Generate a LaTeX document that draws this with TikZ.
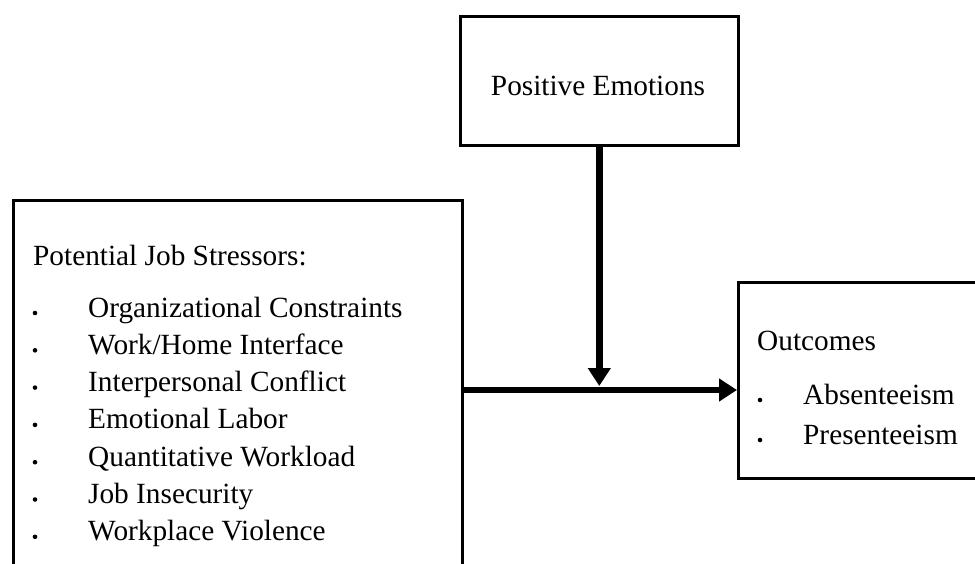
\documentclass[tikz,border=0pt]{standalone}
\usepackage{fontspec}
\setmainfont{Liberation Serif}
\usetikzlibrary{arrows.meta}
\begin{document}
\begin{tikzpicture}[x=1pt,y=-1pt,
  box/.style={draw=black,line width=2.6pt,fill=white,inner sep=0pt},
  txt/.style={anchor=base west,inner sep=0pt,font=\fontsize{29.3}{37.3}\selectfont},
  bul/.style={circle,fill=black,inner sep=0pt,minimum size=4.6pt},
  conn/.style={line width=6.5pt,-{Triangle[width=22pt,length=18pt]}}]
\clip (0,0) rectangle (975,563);
\fill[white] (0,0) rectangle (975,563);
% boxes
\node[box,anchor=north west,minimum width=278pt,minimum height=129pt] (pos) at (459,15) {};
\node[box,anchor=north west,minimum width=449pt,minimum height=430pt] (stress) at (12,199) {};
\node[box,anchor=north west,minimum width=280pt,minimum height=196pt] (outc) at (737,281) {};
% texts
\node[txt,anchor=base] (postxt) at (598,95) {Positive Emotions};
\node[txt] (sttitle) at (33,265) {Potential Job Stressors:};
\node[txt] (s1) at (88,317) {Organizational Constraints};
\node[txt] (s2) at (88,354.3) {Work/Home Interface};
\node[txt] (s3) at (88,391.6) {Interpersonal Conflict};
\node[txt] (s4) at (88,428.9) {Emotional Labor};
\node[txt] (s5) at (88,466.2) {Quantitative Workload};
\node[txt] (s6) at (88,503.5) {Job Insecurity};
\node[txt] (s7) at (88,540.8) {Workplace Violence};
\node[bul] (b1) at (35,313) {};
\node[bul] (b2) at (35,350.3) {};
\node[bul] (b3) at (35,387.6) {};
\node[bul] (b4) at (35,424.9) {};
\node[bul] (b5) at (35,462.2) {};
\node[bul] (b6) at (35,499.5) {};
\node[bul] (b7) at (35,536.8) {};
\node[txt] (outtitle) at (757,350) {Outcomes};
\node[txt] (o1) at (803,404) {Absenteeism};
\node[txt] (o2) at (803,444) {Presenteeism};
\node[bul] (ob1) at (760,400) {};
\node[bul] (ob2) at (760,440) {};
% connectors
\coordinate (j) at (598,390);
\coordinate (jtop) at (598,386);
\draw[conn] (stress.east |- j) -- (outc.west |- j);
\draw[conn] (pos.south) -- (pos.south |- jtop);
\end{tikzpicture}
\end{document}
